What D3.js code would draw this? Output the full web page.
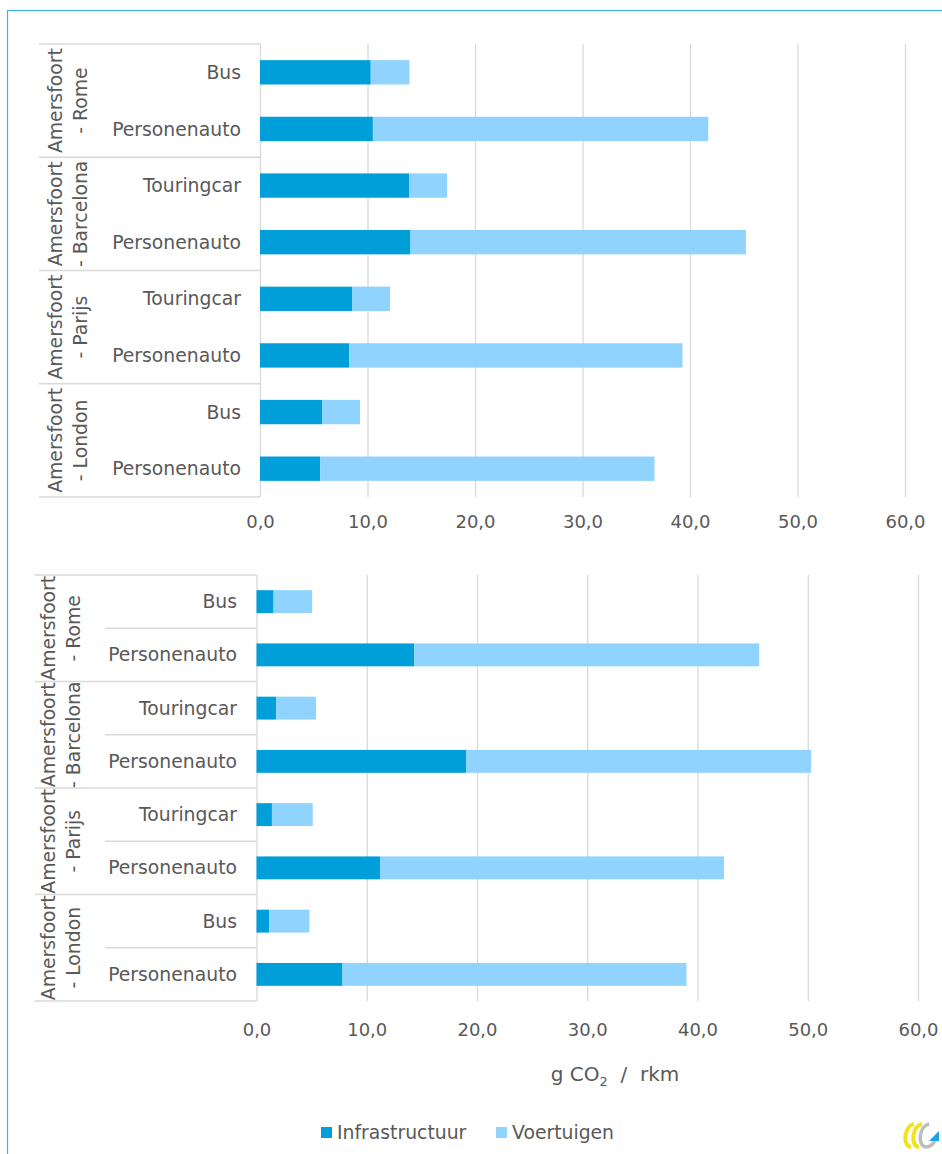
<!DOCTYPE html>
<html>
<head>
<meta charset="utf-8">
<script src="https://cdn.jsdelivr.net/npm/d3@7"></script>
<style>
  html, body { margin: 0; padding: 0; background: #fff; }
  svg { display: block; font-family: "DejaVu Sans", sans-serif; }
</style>
</head>
<body>
<svg id="chart" width="942" height="1154"></svg>
<script>
// ---------- DATA ----------
const routeLine1 = ["Amersfoort", "Amersfoort", "Amersfoort", "Amersfoort"];
const routeLine2 = ["- Rome", "- Barcelona", "- Parijs", "- London"];

const modesTop = ["Bus", "Personenauto", "Touringcar", "Personenauto", "Touringcar", "Personenauto", "Bus", "Personenauto"];
const infraTop = [10.3, 10.5, 13.9, 14.0, 8.6, 8.3, 5.8, 5.6];
const voertTop = [3.6, 31.2, 3.5, 31.2, 3.5, 31.0, 3.5, 31.1];

const modesBottom = ["Bus", "Personenauto", "Touringcar", "Personenauto", "Touringcar", "Personenauto", "Bus", "Personenauto"];
const infraBottom = [1.55, 14.3, 1.8, 19.0, 1.4, 11.2, 1.15, 7.8];
const voertBottom = [3.5, 31.3, 3.6, 31.3, 3.7, 31.2, 3.65, 31.2];

const tickValues = [0, 10, 20, 30, 40, 50, 60];
const tickLabels = ["0,0", "10,0", "20,0", "30,0", "40,0", "50,0", "60,0"];

const seriesNames = ["Infrastructuur", "Voertuigen"];
const seriesColors = ["#009FDA", "#8FD3FE"];
const axisTitle = "g CO";
const axisTitleSub = "2";
const axisTitleRest = "  /  rkm";

// ---------- STYLE ----------
const textColor = "#595959";
const lineColor = "#D9D9D9";
const fontSize = 18.8;

const svg = d3.select("#chart");

// outer frame
svg.append("rect")
  .attr("x", 7.5).attr("y", 10.5)
  .attr("width", 1000).attr("height", 1200)
  .attr("fill", "none").attr("stroke", "#3FB3E3").attr("stroke-width", 1.2);

function drawPanel(cfg) {
  const g = svg.append("g");
  const x = d3.scaleLinear().domain([0, 60]).range([cfg.x0, cfg.x1]);
  const y = d3.scaleBand().domain(d3.range(cfg.modes.length))
    .range([cfg.top, cfg.bottom]).paddingInner(0.57).paddingOuter(0.285);
  const step = y.step();

  // gridlines + tick labels via axis
  const axis = d3.axisBottom(x)
    .tickValues(tickValues)
    .tickFormat((d, i) => tickLabels[i])
    .tickSize(-(cfg.bottom - cfg.top));
  const ag = g.append("g")
    .attr("transform", `translate(0,${cfg.bottom})`)
    .call(axis);
  ag.select(".domain").remove();
  ag.selectAll(".tick line").attr("stroke", lineColor).attr("stroke-width", 1.3);
  ag.selectAll(".tick text")
    .attr("y", cfg.tickOffset).attr("dy", "0.35em")
    .attr("fill", textColor)
    .style("font-size", "18px")
    .style("font-family", "DejaVu Sans, sans-serif");

  // category box lines
  const nGroups = cfg.modes.length / 2;
  for (let i = 0; i <= nGroups; i++) {
    const yy = cfg.top + i * 2 * step;
    g.append("line")
      .attr("x1", cfg.boxLeft).attr("x2", cfg.x0)
      .attr("y1", yy).attr("y2", yy)
      .attr("stroke", lineColor).attr("stroke-width", 1.3);
  }
  if (cfg.rowLines) {
    for (let i = 0; i < nGroups; i++) {
      const yy = cfg.top + (i * 2 + 1) * step;
      g.append("line")
        .attr("x1", cfg.rowLineLeft).attr("x2", cfg.x0)
        .attr("y1", yy).attr("y2", yy)
        .attr("stroke", lineColor).attr("stroke-width", 1.3);
    }
  }

  // bars
  const infra = cfg.infra, voert = cfg.voert;
  g.selectAll(".infra").data(infra).join("rect")
    .attr("x", x(0))
    .attr("y", (d, i) => y(i))
    .attr("width", d => x(d) - x(0))
    .attr("height", y.bandwidth())
    .attr("fill", seriesColors[0]);
  g.selectAll(".voert").data(voert).join("rect")
    .attr("x", (d, i) => x(infra[i]))
    .attr("y", (d, i) => y(i))
    .attr("width", (d, i) => x(infra[i] + d) - x(infra[i]))
    .attr("height", y.bandwidth())
    .attr("fill", seriesColors[1]);

  // category labels
  g.selectAll(".cat").data(cfg.modes).join("text")
    .attr("x", cfg.catX)
    .attr("y", (d, i) => y(i) + y.bandwidth() / 2)
    .attr("dy", "0.35em")
    .attr("text-anchor", "end")
    .attr("fill", textColor)
    .style("font-size", fontSize + "px")
    .text(d => d);

  // group labels (rotated)
  for (let i = 0; i < nGroups; i++) {
    const cy = cfg.top + (i * 2 + 1) * step;
    [[routeLine1[i], cfg.grpX1], [routeLine2[i], cfg.grpX2]].forEach(([t, gx]) => {
      g.append("text")
        .attr("transform", `translate(${gx},${cy}) rotate(-90)`)
        .attr("text-anchor", "middle")
        .attr("dy", "0.35em")
        .attr("fill", textColor)
        .style("font-size", fontSize + "px")
        .text(t);
    });
  }
}

drawPanel({
  modes: modesTop, infra: infraTop, voert: voertTop,
  x0: 260, x1: 905, top: 44, bottom: 497,
  boxLeft: 39, rowLines: false,
  catX: 241, grpX1: 55, grpX2: 80, tickOffset: 25
});

drawPanel({
  modes: modesBottom, infra: infraBottom, voert: voertBottom,
  x0: 256.5, x1: 918, top: 575, bottom: 1001,
  boxLeft: 35, rowLines: true, rowLineLeft: 105,
  catX: 237, grpX1: 48, grpX2: 73, tickOffset: 29
});

// axis title
const title = svg.append("text")
  .attr("x", 615).attr("y", 1074).attr("dy", "0.35em")
  .attr("text-anchor", "middle")
  .attr("fill", textColor)
  .style("font-size", "20px")
  .style("white-space", "pre");
title.append("tspan").text(axisTitle);
title.append("tspan").text(axisTitleSub).attr("dy", "5").style("font-size", "13px");
title.append("tspan").text(axisTitleRest).attr("dy", "-5");

// legend
const legendX = [321, 496];
seriesNames.forEach((name, i) => {
  svg.append("rect")
    .attr("x", legendX[i]).attr("y", 1127)
    .attr("width", 11).attr("height", 11)
    .attr("fill", seriesColors[i]);
  svg.append("text")
    .attr("x", legendX[i] + 16).attr("y", 1132).attr("dy", "0.35em")
    .attr("fill", textColor)
    .style("font-size", fontSize + "px")
    .text(name);
});

// logo (small decorative mark)
const logo = svg.append("g").attr("transform", "translate(0,0)");
// two yellow crescents
logo.append("path")
  .attr("d", "M914,1124 C904,1126 902,1146 911,1147")
  .attr("fill", "none").attr("stroke", "#F2E21B").attr("stroke-width", 4);
logo.append("path")
  .attr("d", "M922,1124 C912,1126 910,1146 919,1147")
  .attr("fill", "none").attr("stroke", "#F2E21B").attr("stroke-width", 4);
// grey curl
logo.append("path")
  .attr("d", "M929,1124 C919,1126 917,1146 926,1147 C930,1147 933,1144 935,1141")
  .attr("fill", "none").attr("stroke", "#BDBDBD").attr("stroke-width", 3.5);
// blue triangle
logo.append("path").attr("d", "M929,1141 L939,1141 L939,1131 Z").attr("fill", "#1AA3E0");
</script>
</body>
</html>
